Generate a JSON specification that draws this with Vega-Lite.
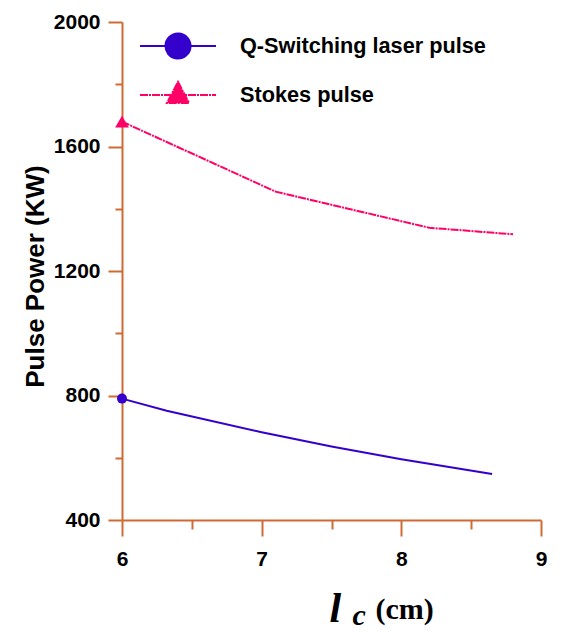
{
  "$schema": "https://vega.github.io/schema/vega-lite/v6.json",
  "width": 419,
  "height": 498,
  "autosize": {"type": "none"},
  "padding": {"left": 122, "top": 22, "right": 20, "bottom": 112},
  "background": "white",
  "config": {
    "view": {"stroke": null},
    "axis": {"grid": false, "domainColor": "#CF6A35", "tickColor": "#CF6A35", "domainWidth": 2, "tickWidth": 2, "labelColor": "black", "titleColor": "black", "labelFlush": false, "labelOverlap": false}
  },
  "data": {
    "values": [
      {"series": "Q-Switching laser pulse", "x": 6, "y": 790},
      {"series": "Q-Switching laser pulse", "x": 6.32, "y": 751},
      {"series": "Q-Switching laser pulse", "x": 7, "y": 682},
      {"series": "Q-Switching laser pulse", "x": 7.5, "y": 636},
      {"series": "Q-Switching laser pulse", "x": 8, "y": 595},
      {"series": "Q-Switching laser pulse", "x": 8.65, "y": 548},
      {"series": "Stokes pulse", "x": 6, "y": 1680},
      {"series": "Stokes pulse", "x": 7.1, "y": 1455},
      {"series": "Stokes pulse", "x": 8.2, "y": 1339},
      {"series": "Stokes pulse", "x": 8.8, "y": 1318}
    ]
  },
  "resolve": {"axis": {"x": "independent", "y": "independent"}},
  "layer": [
    {
      "encoding": {
        "x": {"field": "x", "type": "quantitative", "scale": {"domain": [6, 9], "nice": false, "zero": false},
          "axis": {"orient": "bottom", "values": [6, 7, 8, 9], "format": "d", "tickSize": 16, "labelFont": "Liberation Sans", "labelFontSize": 21, "labelFontWeight": "bold", "labelPadding": 12,
            "title": "l", "titleFont": "Liberation Serif", "titleFontSize": 42, "titleFontStyle": "italic", "titleFontWeight": "bold", "titleX": 207, "titleY": 101, "titleAlign": "left", "titleBaseline": "alphabetic"}},
        "y": {"field": "y", "type": "quantitative", "scale": {"domain": [400, 2000], "nice": false, "zero": false},
          "axis": {"orient": "left", "values": [400, 800, 1200, 1600, 2000], "format": "d", "tickSize": 14, "labelFont": "Liberation Sans", "labelFontSize": 21, "labelFontWeight": "bold", "labelPadding": 8,
            "title": "Pulse Power (KW)", "titleFont": "Liberation Sans", "titleFontSize": 26, "titleFontWeight": "bold", "titleX": -87, "titleY": 254, "titleAngle": -90, "titleAlign": "center", "titleBaseline": "middle"}}
      },
      "layer": [
        {"transform": [{"filter": "datum.series === 'Q-Switching laser pulse'"}], "mark": {"type": "line", "color": "#3300CC", "strokeWidth": 2}},
        {"transform": [{"filter": "datum.series === 'Stokes pulse'"}], "mark": {"type": "line", "color": "#FF0066", "strokeWidth": 2, "strokeDash": [8, 1, 2, 1]}},
        {"transform": [{"filter": "datum.series === 'Q-Switching laser pulse' && datum.x === 6"}], "mark": {"type": "point", "shape": "circle", "filled": true, "color": "#3300CC", "size": 100, "opacity": 1}},
        {"transform": [{"filter": "datum.series === 'Stokes pulse' && datum.x === 6"}], "mark": {"type": "point", "shape": "triangle-up", "filled": true, "color": "#FF0066", "size": 190, "opacity": 1}}
      ]
    },
    {
      "transform": [{"filter": "datum.x === 6"}],
      "mark": {"type": "point", "filled": true, "opacity": 0},
      "encoding": {
        "x": {"field": "x", "type": "quantitative", "scale": {"domain": [6, 9], "nice": false, "zero": false},
          "axis": {"orient": "bottom", "values": [6.5, 7.5, 8.5], "tickSize": 9, "labels": false, "domain": false,
            "title": "c", "titleFont": "Liberation Serif", "titleFontSize": 30, "titleFontStyle": "italic", "titleFontWeight": "bold", "titleX": 230, "titleY": 104, "titleAlign": "left", "titleBaseline": "alphabetic"}},
        "y": {"field": "y", "type": "quantitative", "scale": {"domain": [400, 2000], "nice": false, "zero": false},
          "axis": {"orient": "left", "values": [600, 1000, 1400, 1800], "tickSize": 7, "labels": false, "domain": false, "title": null}},
        "shape": {"field": "series", "type": "nominal",
          "scale": {"domain": ["Q-Switching laser pulse", "Stokes pulse"], "range": ["M-3,0H3M-0.99,0A0.99,0.99 0 1,1 0.99,0A0.99,0.99 0 1,1 -0.99,0Z", "M-3,0H3M0,-1.03L0.87,0.63L-0.87,0.63Z"]}},
        "color": {"field": "series", "type": "nominal", "scale": {"domain": ["Q-Switching laser pulse", "Stokes pulse"], "range": ["#3300CC", "#FF0066"]},
          "legend": {"orient": "none", "legendX": 42, "legendY": 10, "title": null, "padding": 0, "symbolSize": 642, "symbolStrokeWidth": 2,
            "labelFont": "Liberation Sans", "labelFontSize": 21.7, "labelFontWeight": "bold", "labelColor": "black", "labelOffset": 48, "labelLimit": 400, "rowPadding": 14,
            "encode": {"symbols": {"update": {
              "fill": {"scale": "color", "field": "value"},
              "stroke": {"scale": "color", "field": "value"},
              "strokeWidth": {"value": 2},
              "strokeDash": {"signal": "datum.value === 'Stokes pulse' ? [8,1,2,1] : [10,0]"},
              "opacity": {"value": 1}}}}}}
      }
    },
    {
      "transform": [{"filter": "datum.x === 6"}],
      "mark": {"type": "point", "opacity": 0},
      "encoding": {
        "x": {"field": "x", "type": "quantitative", "scale": {"domain": [6, 9], "nice": false, "zero": false},
          "axis": {"orient": "bottom", "domain": false, "ticks": false, "labels": false,
            "title": "(cm)", "titleFont": "Liberation Serif", "titleFontSize": 30, "titleFontWeight": "bold", "titleX": 253, "titleY": 98, "titleAlign": "left", "titleBaseline": "alphabetic"}}
      }
    }
  ]
}
